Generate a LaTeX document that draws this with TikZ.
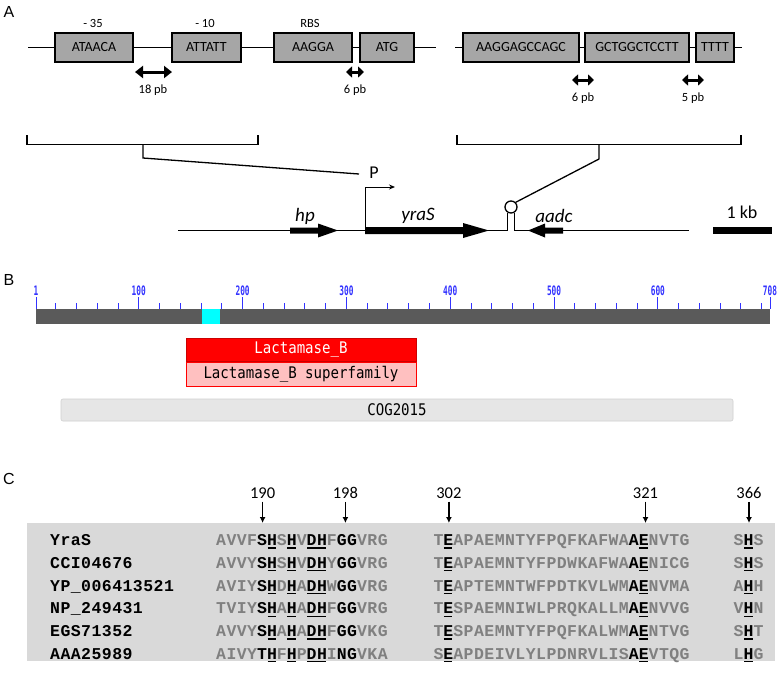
\documentclass[tikz,border=0pt]{standalone}
\usepackage{fontspec}
\setmainfont{Carlito}
\newfontfamily\arialfont{Liberation Sans}
\newfontfamily\seqfont[LetterSpace=2.73]{Liberation Mono}
\newfontfamily\pixfont{DejaVu Sans Mono}
\usetikzlibrary{arrows.meta}
\definecolor{boxgray}{HTML}{A6A6A6}
\definecolor{seqgray}{HTML}{808080}
\definecolor{panelgray}{HTML}{D9D9D9}
\definecolor{rulerblue}{HTML}{3333FF}
\definecolor{bargray}{HTML}{5A5A5A}
\definecolor{domcyan}{HTML}{00FFFF}
\definecolor{lacred}{HTML}{FF0000}
\definecolor{lacpink}{HTML}{FFC0C0}
\definecolor{coggray}{HTML}{E6E6E6}
\definecolor{cogedge}{HTML}{D0D0D0}
\newcommand{\hb}[1]{\textcolor{black}{#1}}
\newcommand{\hu}[1]{\textcolor{black}{\setbox0\hbox{#1}\rlap{\hspace{0.5pt}\rule[-3pt]{\dimexpr\wd0-1.4pt\relax}{1.4pt}}\box0}}
\tikzset{
 seqbox/.style={draw, line width=1.3pt, fill=boxgray, minimum height=29pt, inner sep=0pt, font=\fontsize{14}{16}\selectfont},
 toplbl/.style={font=\fontsize{12.5}{14}\selectfont, inner sep=0pt},
 dimarrow/.style={line width=3pt, {Triangle[length=8pt,width=12pt]}-{Triangle[length=8pt,width=12pt]}},
 smalldim/.style={line width=3pt, {Triangle[length=6pt,width=11pt]}-{Triangle[length=6pt,width=11pt]}},
 backbone/.style={line width=1.3pt},
 genelbl/.style={font=\fontsize{19}{21}\selectfont\itshape, inner sep=0pt},
 panellbl/.style={font=\arialfont\fontsize{16}{18}\selectfont, inner sep=0pt},
 rulerlbl/.style={font=\pixfont\bfseries\fontsize{13}{13}\selectfont, text=rulerblue, inner sep=0pt},
 tickmaj/.style={draw=rulerblue, line width=1pt},
 domtxt/.style={font=\pixfont\fontsize{16}{16}\selectfont, inner sep=0pt},
 numlbl/.style={font=\fontsize{16.5}{18}\selectfont, inner sep=0pt},
 posarrow/.style={line width=1.3pt, -{Latex[length=6pt,width=6pt]}},
 seqtxt/.style={font=\seqfont\bfseries\fontsize{16.5}{16.5}\selectfont, anchor=base west, inner sep=0pt, text=seqgray},
}
\begin{document}
\begin{tikzpicture}[x=1pt, y=-1pt]
\fill[white] (0,0) rectangle (778,673);
\useasboundingbox (0,0) rectangle (778,673);

% ---------------- Panel A ----------------
\node[panellbl] (lblA) at (9,12) {A};
\coordinate (la) at (28,47.5);
\coordinate (lb) at (436,47.5);
\coordinate (ra) at (455,47.5);
\coordinate (rb) at (742,47.5);
\node[seqbox, minimum width=78pt] (m35) at (94,47.5) {ATAACA};
\node[seqbox, minimum width=69pt] (m10) at (206.5,47.5) {ATTATT};
\node[seqbox, minimum width=78pt] (rbs) at (313,47.5) {AAGGA};
\node[seqbox, minimum width=54pt] (atg) at (387,47.5) {ATG};
\node[seqbox, minimum width=116pt] (ir1) at (521,47.5) {AAGGAGCCAGC};
\node[seqbox, minimum width=104pt] (ir2) at (637,47.5) {GCTGGCTCCTT};
\node[seqbox, minimum width=38pt] (tttt) at (715,47.5) {TTTT};
\draw[backbone] (la) -- (m35) (m35) -- (m10) (m10) -- (rbs) (rbs) -- (atg) (atg) -- (lb);
\draw[backbone] (ra) -- (ir1) (ir1) -- (ir2) (ir2) -- (tttt) (tttt) -- (rb);
\node[toplbl] (t35) at (93,23) {- 35};
\node[toplbl] (t10) at (205,23) {- 10};
\node[toplbl] (trbs) at (310,23) {RBS};
\coordinate (d1a) at (135,72); \coordinate (d1b) at (172,72);
\coordinate (d2a) at (346,72); \coordinate (d2b) at (364,72);
\coordinate (d3a) at (572,80); \coordinate (d3b) at (594,80);
\coordinate (d4a) at (682,80); \coordinate (d4b) at (704,80);
\draw[dimarrow] (d1a) -- (d1b);
\draw[smalldim] (d2a) -- (d2b);
\draw[smalldim] (d3a) -- (d3b);
\draw[smalldim] (d4a) -- (d4b);
\node[toplbl] (l18) at (153,90) {18 pb};
\node[toplbl] (l6a) at (355,90) {6 pb};
\node[toplbl] (l6b) at (583,98) {6 pb};
\node[toplbl] (l5) at (693,98) {5 pb};

% brackets
\draw[backbone] (27,135) -- (27,144.5) -- (258,144.5) -- (258,135);
\draw[backbone] (457,135) -- (457,144.5) -- (741,144.5) -- (741,135);
\node[font=\fontsize{18}{20}\selectfont, inner sep=0pt] (P) at (374,173) {P};
\coordinate (pc) at (359,174);
\draw[backbone] (143,144.5) -- (143,158) -- (pc);
\node[circle, draw, line width=1.3pt, minimum size=12pt, inner sep=0pt] (loop) at (511,207) {};
\draw[backbone] (599,144.5) -- (599,159) -- (loop.45);

% gene map
\coordinate (g0) at (178,230.5);
\coordinate (g1) at (689,230.5);
\draw[backbone] (loop.-120) -- (loop.-120 |- g0) -- (g0);
\draw[backbone] (loop.-60) -- (loop.-60 |- g1) -- (g1);
\coordinate (prs) at (365,230.5);
\coordinate (prt) at (395,187);
\draw[line width=1pt, -{Stealth[length=6pt,width=5pt]}] (prs) |- (prt);
\fill (290,227.5) -- (318,227.5) -- (318,223.5) -- (338,230.5) -- (318,237.5) -- (318,233.5) -- (290,233.5) -- cycle;
\fill (365,227) -- (463,227) -- (463,223) -- (489,230.5) -- (463,238) -- (463,234) -- (365,234) -- cycle;
\fill (563,227.5) -- (545,227.5) -- (545,223.5) -- (528,230.5) -- (545,237.5) -- (545,233.5) -- (563,233.5) -- cycle;
\fill (713,227) rectangle (772,234);
\node[genelbl] (hp) at (305,216) {hp};
\node[genelbl] (yras) at (418,216) {yraS};
\node[genelbl] (aadc) at (554,216) {aadc};
\node[font=\fontsize{18}{20}\selectfont, inner sep=0pt] (kb) at (742,212) {1 kb};

% ---------------- Panel B ----------------
\node[panellbl] (lblB) at (9,280) {B};
\foreach \u in {20,40,...,700} {
  \pgfmathsetmacro\xx{36+(\u-1)*1.0382}
  \draw[tickmaj] (\xx,303) -- (\xx,309);
}
\foreach \u in {1,100,200,300,400,500,600,708} {
  \pgfmathsetmacro\xx{36+(\u-1)*1.0382}
  \draw[tickmaj] (\xx,297) -- (\xx,309);
  \node[rulerlbl] (tk\u) at (\xx,290.5) {\scalebox{0.6}[1]{\u}};
}
\node[fill=bargray, minimum width=734pt, minimum height=14.5pt, inner sep=0pt] (bar) at (403,316.25) {};
\node[fill=domcyan, minimum width=18pt, minimum height=14.5pt, inner sep=0pt] (dom) at (211,316.25) {};
\node[fill=lacred, draw=lacred!80!black, line width=0.6pt, minimum width=230pt, minimum height=23pt, inner sep=0pt, domtxt, text=white] (lac) at (301,349.5) {\scalebox{0.88}[1]{Lactamase\_B}};
\node[fill=lacpink, draw=lacred, line width=0.8pt, minimum width=230pt, minimum height=24pt, inner sep=0pt, domtxt] (lacs) at (301,374) {\scalebox{0.88}[1]{Lactamase\_B superfamily}};
\node[fill=coggray, draw=cogedge, line width=0.6pt, rounded corners=2pt, minimum width=672pt, minimum height=22pt, inner sep=0pt, domtxt] (cog) at (397,410) {\scalebox{0.88}[1]{COG2015}};

% ---------------- Panel C ----------------
\node[panellbl] (lblC) at (9,479) {C};
\node[fill=panelgray, minimum width=748pt, minimum height=138pt, inner sep=0pt, anchor=north west] (cbox) at (27,523) {};
\node[numlbl] (n190) at (262.6,493) {190};
\node[numlbl] (n198) at (345.4,493) {198};
\node[numlbl] (n302) at (448.9,493) {302};
\node[numlbl] (n321) at (645.5,493) {321};
\node[numlbl] (n366) at (749,493) {366};
\foreach \n in {n190,n198,n302,n321,n366} {
  \draw[posarrow] ([yshift=-3pt]\n.south) -- (\n |- cbox.north);
}
% rows
\node[seqtxt, text=black] (nm1) at (50,545.5) {YraS};
\node[seqtxt] (s1a) at (216,545.5) {AVVF\hb{S}\hu{H}S\hu{H}V\hu{DH}F\hb{GG}VRG};
\node[seqtxt] (s1b) at (433.35,545.5) {T\hu{E}APAEMNTYFPQFKAFWA\hb{A}\hu{E}NVTG};
\node[seqtxt] (s1c) at (733.5,545.5) {S\hu{H}S};

\node[seqtxt, text=black] (nm2) at (50,568.3) {CCI04676};
\node[seqtxt] (s2a) at (216,568.3) {AVVY\hb{S}\hu{H}S\hu{H}V\hu{DH}Y\hb{GG}VRG};
\node[seqtxt] (s2b) at (433.35,568.3) {T\hu{E}APAEMNTYFPDWKAFWA\hb{A}\hu{E}NICG};
\node[seqtxt] (s2c) at (733.5,568.3) {S\hu{H}S};

\node[seqtxt, text=black] (nm3) at (50,591.1) {YP\_006413521};
\node[seqtxt] (s3a) at (216,591.1) {AVIY\hb{S}\hu{H}D\hu{H}A\hu{DH}W\hb{GG}VRG};
\node[seqtxt] (s3b) at (433.35,591.1) {T\hu{E}APTEMNTWFPDTKVLWM\hb{A}\hu{E}NVMA};
\node[seqtxt] (s3c) at (733.5,591.1) {A\hu{H}H};

\node[seqtxt, text=black] (nm4) at (50,613.9) {NP\_249431};
\node[seqtxt] (s4a) at (216,613.9) {TVIY\hb{S}\hu{H}A\hu{H}A\hu{DH}F\hb{GG}VRG};
\node[seqtxt] (s4b) at (433.35,613.9) {T\hu{E}SPAEMNIWLPRQKALLM\hb{A}\hu{E}NVVG};
\node[seqtxt] (s4c) at (733.5,613.9) {V\hu{H}N};

\node[seqtxt, text=black] (nm5) at (50,636.7) {EGS71352};
\node[seqtxt] (s5a) at (216,636.7) {AVVY\hb{S}\hu{H}A\hu{H}A\hu{DH}F\hb{GG}VKG};
\node[seqtxt] (s5b) at (433.35,636.7) {T\hu{E}SPAEMNTYFPQFKALWM\hb{A}\hu{E}NTVG};
\node[seqtxt] (s5c) at (733.5,636.7) {S\hu{H}T};

\node[seqtxt, text=black] (nm6) at (50,659) {AAA25989};
\node[seqtxt] (s6a) at (216,659) {AIVY\hb{T}\hu{H}F\hu{H}P\hu{DH}I\hb{NG}VKA};
\node[seqtxt] (s6b) at (433.35,659) {S\hu{E}APDEIVLYLPDNRVLIS\hb{A}\hu{E}VTQG};
\node[seqtxt] (s6c) at (733.5,659) {L\hu{H}G};
\end{tikzpicture}
\end{document}
